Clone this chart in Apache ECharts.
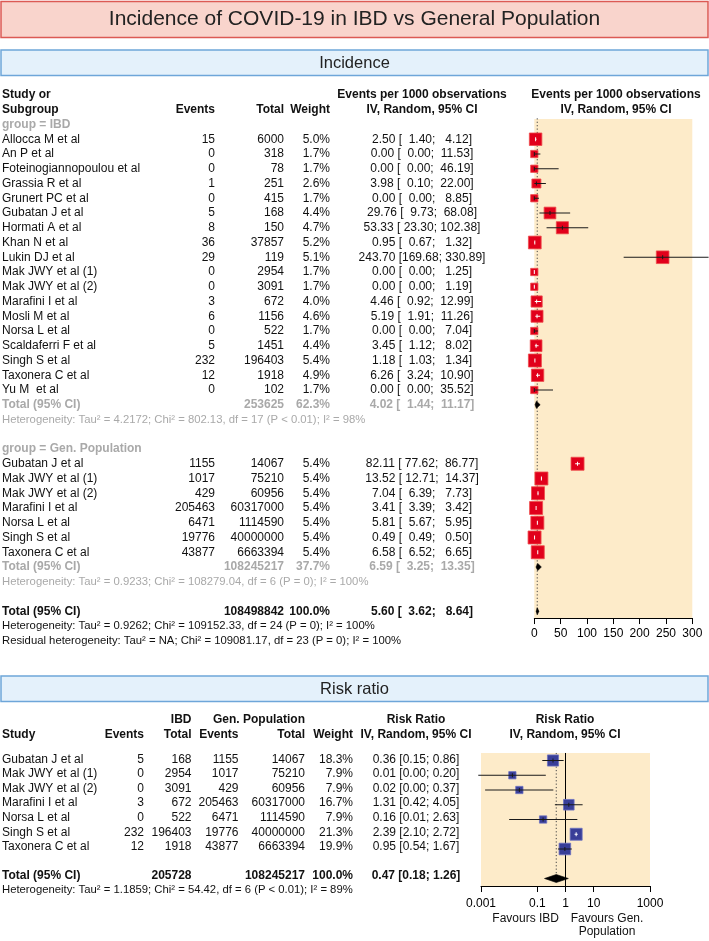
<!DOCTYPE html>
<html><head><meta charset="utf-8">
<script src="https://cdn.jsdelivr.net/npm/echarts@6/dist/echarts.min.js"></script>
<style>html,body{margin:0;padding:0;background:#fff}#c{width:709px;height:941px}</style>
</head><body><div id="c"></div>
<script>
// ---------------- DATA ----------------
const incStudiesIBD = ['Allocca M et al','An P et al','Foteinogiannopoulou et al','Grassia R et al','Grunert PC et al','Gubatan J et al','Hormati A et al','Khan N et al','Lukin DJ et al','Mak JWY et al (1)','Mak JWY et al (2)','Marafini I et al','Mosli M et al','Norsa L et al','Scaldaferri F et al','Singh S et al','Taxonera C et al','Yu M  et al'];
const incEventsIBD = [15,0,0,1,0,5,8,36,29,0,0,3,6,0,5,232,12,0];
const incTotalIBD = [6000,318,78,251,415,168,150,37857,119,2954,3091,672,1156,522,1451,196403,1918,102];
const incWeightIBD = [5.0,1.7,1.7,2.6,1.7,4.4,4.7,5.2,5.1,1.7,1.7,4.0,4.6,1.7,4.4,5.4,4.9,1.7];
const incEstIBD = [2.50,0.00,0.00,3.98,0.00,29.76,53.33,0.95,243.70,0.00,0.00,4.46,5.19,0.00,3.45,1.18,6.26,0.00];
const incLowIBD = [1.40,0.00,0.00,0.10,0.00,9.73,23.30,0.67,169.68,0.00,0.00,0.92,1.91,0.00,1.12,1.03,3.24,0.00];
const incUpIBD = [4.12,11.53,46.19,22.00,8.85,68.08,102.38,1.32,330.89,1.25,1.19,12.99,11.26,7.04,8.02,1.34,10.90,35.52];

const incStudiesGen = ['Gubatan J et al','Mak JWY et al (1)','Mak JWY et al (2)','Marafini I et al','Norsa L et al','Singh S et al','Taxonera C et al'];
const incEventsGen = [1155,1017,429,205463,6471,19776,43877];
const incTotalGen = [14067,75210,60956,60317000,1114590,40000000,6663394];
const incWeightGen = [5.4,5.4,5.4,5.4,5.4,5.4,5.4];
const incEstGen = [82.11,13.52,7.04,3.41,5.81,0.49,6.58];
const incLowGen = [77.62,12.71,6.39,3.39,5.67,0.49,6.52];
const incUpGen = [86.77,14.37,7.73,3.42,5.95,0.50,6.65];

const incSumTotal = [253625,108245217,108498842];
const incSumWeight = [62.3,37.7,100.0];
const incSumEst = [4.02,6.59,5.60];
const incSumLow = [1.44,3.25,3.62];
const incSumUp = [11.17,13.35,8.64];
const incHet = [
  'Heterogeneity: Tau² = 4.2172; Chi² = 802.13, df = 17 (P < 0.01); I² = 98%',
  'Heterogeneity: Tau² = 0.9233; Chi² = 108279.04, df = 6 (P = 0); I² = 100%',
  'Heterogeneity: Tau² = 0.9262; Chi² = 109152.33, df = 24 (P = 0); I² = 100%',
  'Residual heterogeneity: Tau² = NA; Chi² = 109081.17, df = 23 (P = 0); I² = 100%'
];
const incTicks = [0,50,100,150,200,250,300];

const rrStudies = ['Gubatan J et al','Mak JWY et al (1)','Mak JWY et al (2)','Marafini I et al','Norsa L et al','Singh S et al','Taxonera C et al'];
const rrEventsIBD = [5,0,0,3,0,232,12];
const rrTotalIBD = [168,2954,3091,672,522,196403,1918];
const rrEventsGen = [1155,1017,429,205463,6471,19776,43877];
const rrTotalGen = [14067,75210,60956,60317000,1114590,40000000,6663394];
const rrWeight = [18.3,7.9,7.9,16.7,7.9,21.3,19.9];
const rrEst = [0.36,0.013,0.023,1.31,0.16,2.39,0.95];
const rrLow = [0.15,0.0008,0.0014,0.42,0.01,2.10,0.54];
const rrUp = [0.86,0.20,0.37,4.05,2.63,2.72,1.67];
const rrSum = [205728,108245217,100.0,0.47,0.18,1.26]; // IBD total, Gen total, weight, est, low, up
const rrHet = 'Heterogeneity: Tau² = 1.1859; Chi² = 54.42, df = 6 (P < 0.01); I² = 89%';
const rrTickValues = [0.001,0.1,1,10,1000];
const rrTickLabels = ['0.001','0.1','1','10','1000'];

// ---------------- LAYOUT ----------------
const FONT = '"Liberation Sans", Arial, sans-serif';
const FS = 12, FS_HET = 11.3;
const ROW = 14.75;
const INC_Y0 = 139.25, RR_Y0 = 760.5;
const incPx = i => INC_Y0 + ROW * i;
const rrPx = i => RR_Y0 + ROW * i;
const GREY = '#a9a9a9', BLACK = '#111';

const fmtPad = (v, n) => { let s = v.toFixed(2); while (s.length < n) s = ' ' + s; return s; };
const incCI = (e, l, u) => e.toFixed(2) + ' [' + fmtPad(l, 6) + '; ' + fmtPad(u, 6) + ']';
const rrCI = (e, l, u) => e.toFixed(2) + ' [' + l.toFixed(2) + '; ' + u.toFixed(2) + ']';
const pct = w => w.toFixed(1) + '%';

// incidence text items
const C_NAME = 2, C_EV = 215, C_TOT = 284, C_W = 330, C_EST = 422, C_PH = 616;
const incText = [];
const T = (arr, x, row, text, align, bold, color, size) => arr.push({x, row, text: String(text), align, bold: !!bold, color: color || BLACK, size: size || FS});
T(incText, C_NAME, -3, 'Study or', 'left', 1);
T(incText, C_NAME, -2, 'Subgroup', 'left', 1);
T(incText, C_EV, -2, 'Events', 'right', 1);
T(incText, C_TOT, -2, 'Total', 'right', 1);
T(incText, C_W, -2, 'Weight', 'right', 1);
T(incText, C_EST, -3, 'Events per 1000 observations', 'center', 1);
T(incText, C_EST, -2, 'IV, Random, 95% CI', 'center', 1);
T(incText, C_PH, -3, 'Events per 1000 observations', 'center', 1);
T(incText, C_PH, -2, 'IV, Random, 95% CI', 'center', 1);
T(incText, C_NAME, -1, 'group = IBD', 'left', 1, GREY);
incStudiesIBD.forEach((s, i) => {
  T(incText, C_NAME, i, s, 'left');
  T(incText, C_EV, i, incEventsIBD[i], 'right');
  T(incText, C_TOT, i, incTotalIBD[i], 'right');
  T(incText, C_W, i, pct(incWeightIBD[i]), 'right');
  T(incText, C_EST, i, incCI(incEstIBD[i], incLowIBD[i], incUpIBD[i]), 'center');
});
const IBD_N = incStudiesIBD.length; // 18
T(incText, C_NAME, IBD_N, 'Total (95% CI)', 'left', 1, GREY);
T(incText, C_TOT, IBD_N, incSumTotal[0], 'right', 1, GREY);
T(incText, C_W, IBD_N, pct(incSumWeight[0]), 'right', 1, GREY);
T(incText, C_EST, IBD_N, incCI(incSumEst[0], incSumLow[0], incSumUp[0]), 'center', 1, GREY);
T(incText, C_NAME, IBD_N + 1, incHet[0], 'left', 0, GREY, FS_HET);
const GEN0 = IBD_N + 4; // 22
T(incText, C_NAME, GEN0 - 1, 'group = Gen. Population', 'left', 1, GREY);
incStudiesGen.forEach((s, i) => {
  const r = GEN0 + i;
  T(incText, C_NAME, r, s, 'left');
  T(incText, C_EV, r, incEventsGen[i], 'right');
  T(incText, C_TOT, r, incTotalGen[i], 'right');
  T(incText, C_W, r, pct(incWeightGen[i]), 'right');
  T(incText, C_EST, r, incCI(incEstGen[i], incLowGen[i], incUpGen[i]), 'center');
});
const GEN_T = GEN0 + incStudiesGen.length; // 29
T(incText, C_NAME, GEN_T, 'Total (95% CI)', 'left', 1, GREY);
T(incText, C_TOT, GEN_T, incSumTotal[1], 'right', 1, GREY);
T(incText, C_W, GEN_T, pct(incSumWeight[1]), 'right', 1, GREY);
T(incText, C_EST, GEN_T, incCI(incSumEst[1], incSumLow[1], incSumUp[1]), 'center', 1, GREY);
T(incText, C_NAME, GEN_T + 1, incHet[1], 'left', 0, GREY, FS_HET);
const ALL_T = GEN_T + 3; // 32
T(incText, C_NAME, ALL_T, 'Total (95% CI)', 'left', 1);
T(incText, C_TOT, ALL_T, incSumTotal[2], 'right', 1);
T(incText, C_W, ALL_T, pct(incSumWeight[2]), 'right', 1);
T(incText, C_EST, ALL_T, incCI(incSumEst[2], incSumLow[2], incSumUp[2]), 'center', 1);
T(incText, C_NAME, ALL_T + 1, incHet[2], 'left', 0, BLACK, FS_HET);
T(incText, C_NAME, ALL_T + 2, incHet[3], 'left', 0, BLACK, FS_HET);

// risk ratio text items
const R_NAME = 2, R_EV = 144, R_TOT = 191.5, R_GEV = 238.5, R_GTOT = 305, R_W = 353, R_EST = 416, R_PH = 565;
const rrText = [];
const H1 = -2.75, H2 = -1.73;
T(rrText, R_TOT, H1, 'IBD', 'right', 1);
T(rrText, R_GTOT, H1, 'Gen. Population', 'right', 1);
T(rrText, R_EST, H1, 'Risk Ratio', 'center', 1);
T(rrText, R_PH, H1, 'Risk Ratio', 'center', 1);
T(rrText, R_NAME, H2, 'Study', 'left', 1);
T(rrText, R_EV, H2, 'Events', 'right', 1);
T(rrText, R_TOT, H2, 'Total', 'right', 1);
T(rrText, R_GEV, H2, 'Events', 'right', 1);
T(rrText, R_GTOT, H2, 'Total', 'right', 1);
T(rrText, R_W, H2, 'Weight', 'right', 1);
T(rrText, R_EST, H2, 'IV, Random, 95% CI', 'center', 1);
T(rrText, R_PH, H2, 'IV, Random, 95% CI', 'center', 1);
rrStudies.forEach((s, i) => {
  T(rrText, R_NAME, i, s, 'left');
  T(rrText, R_EV, i, rrEventsIBD[i], 'right');
  T(rrText, R_TOT, i, rrTotalIBD[i], 'right');
  T(rrText, R_GEV, i, rrEventsGen[i], 'right');
  T(rrText, R_GTOT, i, rrTotalGen[i], 'right');
  T(rrText, R_W, i, pct(rrWeight[i]), 'right');
  T(rrText, R_EST, i, rrCI(rrEst[i], rrLow[i], rrUp[i]), 'center');
});
const RR_T = rrStudies.length + 1; // 8
T(rrText, R_NAME, RR_T, 'Total (95% CI)', 'left', 1);
T(rrText, R_TOT, RR_T, rrSum[0], 'right', 1);
T(rrText, R_GTOT, RR_T, rrSum[1], 'right', 1);
T(rrText, R_W, RR_T, pct(rrSum[2]), 'right', 1);
T(rrText, R_EST, RR_T, rrCI(rrSum[3], rrSum[4], rrSum[5]), 'center', 1);
T(rrText, R_NAME, RR_T + 0.95, rrHet, 'left', 0, BLACK, FS_HET);
T(rrText, 559, 10.95, 'Favours IBD', 'right');
T(rrText, 607, 10.95, 'Favours Gen.', 'center');
T(rrText, 607, 11.85, 'Population', 'center');

// ---------------- RENDERERS ----------------
function textRenderer(items) {
  return function (params, api) {
    const t = items[params.dataIndex];
    const p = api.coord([api.value(0), api.value(1)]);
    return {
      type: 'text', x: p[0], y: p[1],
      style: {
        text: t.text, fill: t.color,
        font: (t.bold ? 'bold ' : '') + t.size + 'px ' + FONT,
        align: t.align, textAlign: t.align,
        verticalAlign: 'middle', textVerticalAlign: 'middle'
      }
    };
  };
}
function forestRenderer(k, fill, stroke) {
  return function (params, api) {
    const row = api.value(1);
    const c = api.coord([api.value(0), row]);
    const l = api.coord([api.value(2), row]);
    const u = api.coord([api.value(3), row]);
    const s = k * Math.sqrt(api.value(4));
    const inside = l[0] >= c[0] - s / 2 && u[0] <= c[0] + s / 2;
    const col = inside ? '#ffffff' : '#1a1a1a';
    const ch = [];
    ch.push({type: 'rect', shape: {x: c[0] - s / 2, y: c[1] - s / 2, width: s, height: s},
      style: {fill: fill, stroke: stroke, lineWidth: 0.8}});
    ch.push({type: 'line', shape: {x1: l[0], y1: c[1], x2: u[0], y2: c[1]},
      style: {stroke: col, lineWidth: 1}});
    ch.push({type: 'line', shape: {x1: c[0], y1: c[1] - 2, x2: c[0], y2: c[1] + 2},
      style: {stroke: col, lineWidth: 1}});
    return {type: 'group', children: ch};
  };
}
function diamondRenderer(h) {
  return function (params, api) {
    const row = api.value(1);
    const c = api.coord([api.value(0), row]);
    const l = api.coord([api.value(2), row]);
    const u = api.coord([api.value(3), row]);
    return {type: 'polygon', shape: {points: [[l[0], c[1]], [c[0], c[1] - h], [u[0], c[1]], [c[0], c[1] + h]]},
      style: {fill: '#000', stroke: '#000', lineWidth: 0.6}};
  };
}
function vlineRenderer(dash, color) {
  return function (params, api) {
    const a = api.coord([api.value(0), api.value(1)]);
    const b = api.coord([api.value(0), api.value(2)]);
    return {type: 'line', shape: {x1: a[0], y1: a[1], x2: b[0], y2: b[1]},
      style: {stroke: color, lineWidth: 1, lineDash: dash}};
  };
}

// ---------------- GRIDS ----------------
const INC_TXT_MIN = -3.5, INC_TXT_MAX = 35;
const INC_PL_MIN = -1.37, INC_PL_MAX = 32.46;
const RR_TXT_MIN = -3.5, RR_TXT_MAX = 12.5;
const RR_PL_MIN = -0.51, RR_PL_MAX = 8.51;
const BEIGE = '#fdebc9';

const incForestData = incEstIBD.map((e, i) => [e, i, incLowIBD[i], incUpIBD[i], incWeightIBD[i]])
  .concat(incEstGen.map((e, i) => [e, GEN0 + i, incLowGen[i], incUpGen[i], incWeightGen[i]]));
const incDiamonds = [IBD_N, GEN_T, ALL_T].map((r, j) => [incSumEst[j], r, incSumLow[j], incSumUp[j]]);
const rrForestData = rrEst.map((e, i) => [e, i, rrLow[i], rrUp[i], rrWeight[i]]);

const axisText = {fontFamily: FONT, fontSize: 12, color: '#000'};

const option = {
  animation: false,
  backgroundColor: '#fff',
  grid: [
    {left: 0, width: 709, top: incPx(INC_TXT_MIN), height: ROW * (INC_TXT_MAX - INC_TXT_MIN)},
    {left: 534.3, width: 158, top: incPx(INC_PL_MIN), height: ROW * (INC_PL_MAX - INC_PL_MIN),
      show: true, backgroundColor: BEIGE, borderWidth: 0},
    {left: 0, width: 709, top: rrPx(RR_TXT_MIN), height: ROW * (RR_TXT_MAX - RR_TXT_MIN)},
    {left: 481, width: 169, top: rrPx(RR_PL_MIN), height: ROW * (RR_PL_MAX - RR_PL_MIN),
      show: true, backgroundColor: BEIGE, borderWidth: 0}
  ],
  xAxis: [
    {gridIndex: 0, type: 'value', min: 0, max: 709, show: false},
    {gridIndex: 1, type: 'value', position: 'bottom', min: incTicks[0], max: incTicks[incTicks.length - 1], interval: 50,
      axisLine: {show: true, onZero: false, lineStyle: {color: '#000', width: 1}},
      axisTick: {show: true, length: 6, lineStyle: {color: '#000'}},
      axisLabel: Object.assign({margin: 10, showMinLabel: true, showMaxLabel: true}, axisText),
      splitLine: {show: false}},
    {gridIndex: 2, type: 'value', min: 0, max: 709, show: false},
    {gridIndex: 3, type: 'log', position: 'bottom', logBase: 10, min: rrTickValues[0], max: rrTickValues[rrTickValues.length - 1],
      axisLine: {show: true, onZero: false, lineStyle: {color: '#000', width: 1}},
      axisTick: {show: true, length: 6, lineStyle: {color: '#000'}, customValues: rrTickValues},
      axisLabel: Object.assign({margin: 12, customValues: rrTickValues,
        formatter: v => rrTickLabels[rrTickValues.findIndex(t => Math.abs(Math.log10(t) - Math.log10(v)) < 1e-6)] || ''}, axisText),
      splitLine: {show: false}, minorTick: {show: false}}
  ],
  yAxis: [
    {gridIndex: 0, type: 'value', min: INC_TXT_MIN, max: INC_TXT_MAX, inverse: true, show: false},
    {gridIndex: 1, type: 'value', min: INC_PL_MIN, max: INC_PL_MAX, inverse: true, show: false},
    {gridIndex: 2, type: 'value', min: RR_TXT_MIN, max: RR_TXT_MAX, inverse: true, show: false},
    {gridIndex: 3, type: 'value', min: RR_PL_MIN, max: RR_PL_MAX, inverse: true, show: false}
  ],
  graphic: [
    {type: 'rect', shape: {x: 1, y: 1.5, width: 707, height: 36}, style: {fill: '#f9d4cc', stroke: '#dc5a54', lineWidth: 1.5}},
    {type: 'text', x: 354.5, y: 19.5, style: {text: 'Incidence of COVID-19 in IBD vs General Population', font: '21px ' + FONT, fill: '#222', align: 'center', verticalAlign: 'middle', textAlign: 'center', textVerticalAlign: 'middle'}},
    {type: 'rect', shape: {x: 1, y: 50, width: 707, height: 25.5}, style: {fill: '#e4f1fb', stroke: '#6ea6d9', lineWidth: 1.5}},
    {type: 'text', x: 354.5, y: 63, style: {text: 'Incidence', font: '16.5px ' + FONT, fill: '#222', align: 'center', verticalAlign: 'middle', textAlign: 'center', textVerticalAlign: 'middle'}},
    {type: 'rect', shape: {x: 1, y: 676, width: 707, height: 25.5}, style: {fill: '#e4f1fb', stroke: '#6ea6d9', lineWidth: 1.5}},
    {type: 'text', x: 354.5, y: 689, style: {text: 'Risk ratio', font: '16.5px ' + FONT, fill: '#222', align: 'center', verticalAlign: 'middle', textAlign: 'center', textVerticalAlign: 'middle'}}
  ],
  series: [
    {type: 'custom', xAxisIndex: 0, yAxisIndex: 0, data: incText.map(t => [t.x, t.row]), renderItem: textRenderer(incText), silent: true},
    {type: 'custom', xAxisIndex: 1, yAxisIndex: 1, data: [[incSumEst[2], INC_PL_MIN - 0.05, ALL_T]], renderItem: vlineRenderer([1.2, 2.2], '#444'), silent: true, z: 2},
    {type: 'custom', xAxisIndex: 1, yAxisIndex: 1, data: incForestData, renderItem: forestRenderer(5.6, '#e1001b', '#ef4d4d'), silent: true, z: 3},
    {type: 'custom', xAxisIndex: 1, yAxisIndex: 1, data: incDiamonds, renderItem: diamondRenderer(3.6), silent: true, z: 3},
    {type: 'custom', xAxisIndex: 2, yAxisIndex: 2, data: rrText.map(t => [t.x, t.row]), renderItem: textRenderer(rrText), silent: true},
    {type: 'custom', xAxisIndex: 3, yAxisIndex: 3, data: [[1, RR_PL_MIN, RR_PL_MAX]], renderItem: vlineRenderer(null, '#000'), silent: true, z: 2},
    {type: 'custom', xAxisIndex: 3, yAxisIndex: 3, data: [[rrSum[3], RR_PL_MIN, RR_T]], renderItem: vlineRenderer([1.2, 2.2], '#444'), silent: true, z: 2},
    {type: 'custom', xAxisIndex: 3, yAxisIndex: 3, data: rrForestData, renderItem: forestRenderer(2.6, '#393e98', '#6d72c2'), silent: true, z: 3},
    {type: 'custom', xAxisIndex: 3, yAxisIndex: 3, data: [[rrSum[3], RR_T, rrSum[4], rrSum[5]]], renderItem: diamondRenderer(4), silent: true, z: 3}
  ]
};
const chart = echarts.init(document.getElementById('c'), null, {renderer: 'canvas'});
chart.setOption(option);
</script>
</body></html>
